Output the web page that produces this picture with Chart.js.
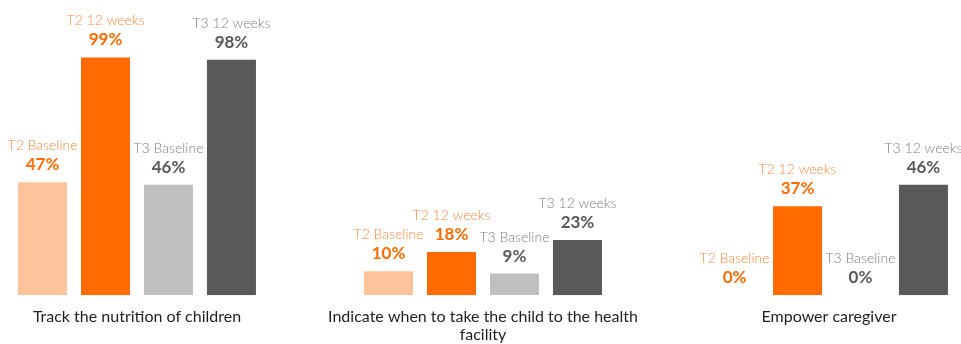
<!DOCTYPE html>
<html lang="en">
<head>
    <meta charset="UTF-8">
    <title>Caregiver knowledge chart</title>
    <script src="https://cdn.jsdelivr.net/npm/chart.js"></script>
    <style>
        html, body { margin: 0; padding: 0; background: #fff; }
        #wrap { width: 961px; height: 344px; overflow: hidden; position: relative; }
        #myChart { position: absolute; left: -36px; top: 0; }
    </style>
</head>
<body>
    <div id="wrap">
        <canvas id="myChart" width="1038" height="356"></canvas>
    </div>

    <script>
        // data
        const categories = [
            'Track the nutrition of children',
            ['Indicate when to take the child to the health', 'facility'],
            'Empower caregiver'
        ];
        const seriesNames = ['T2 Baseline', 'T2 12 weeks', 'T3 Baseline', 'T3 12 weeks'];
        const t2Baseline = [47, 10, 0];
        const t2Weeks12 = [99, 18, 37];
        const t3Baseline = [46, 9, 0];
        const t3Weeks12 = [98, 23, 46];

        const barColors = ['#FDC49B', '#FF6B00', '#BFBFBF', '#595959'];
        const nameColors = ['#F98A45', '#F98A45', '#7F7F7F', '#7F7F7F'];
        const valueColors = ['#FF6B00', '#FF6B00', '#595959', '#595959'];

        const seriesValues = [t2Baseline, t2Weeks12, t3Baseline, t3Weeks12];

        // draws the series name + percent above every bar
        const barLabels = {
            id: 'barLabels',
            afterDatasetsDraw(chart) {
                const ctx = chart.ctx;
                ctx.save();
                ctx.textAlign = 'center';
                ctx.textBaseline = 'alphabetic';
                chart.data.datasets.forEach((ds, i) => {
                    const meta = chart.getDatasetMeta(i);
                    meta.data.forEach((bar, j) => {
                        ctx.fillStyle = valueColors[i];
                        ctx.font = 'bold 17px Lato';
                        ctx.fillText(ds.data[j] + '%', bar.x, bar.y - 12);
                        ctx.fillStyle = nameColors[i];
                        ctx.font = '300 14px Lato';
                        ctx.fillText(ds.label, bar.x, bar.y - 32);
                    });
                });
                ctx.restore();
            }
        };

        var ctx = document.getElementById('myChart').getContext('2d');
        new Chart(ctx, {
            type: 'bar',
            data: {
                labels: categories,
                datasets: seriesNames.map((name, i) => ({
                    label: name,
                    data: seriesValues[i],
                    backgroundColor: barColors[i],
                    borderWidth: 0,
                    categoryPercentage: 0.728,
                    barPercentage: 0.778
                }))
            },
            options: {
                responsive: false,
                animation: false,
                layout: { padding: { top: 55, bottom: 0, left: 0, right: 0 } },
                plugins: {
                    legend: { display: false },
                    tooltip: { enabled: false }
                },
                scales: {
                    x: {
                        grid: { display: false, drawTicks: false },
                        border: { display: false },
                        ticks: {
                            color: '#1E1E1E',
                            padding: 12,
                            maxRotation: 0,
                            autoSkip: false,
                            font: { family: 'Lato', size: 16, lineHeight: 1.15 }
                        }
                    },
                    y: {
                        display: false,
                        min: 0,
                        max: 100
                    }
                }
            },
            plugins: [barLabels]
        });
    </script>
</body>
</html>
